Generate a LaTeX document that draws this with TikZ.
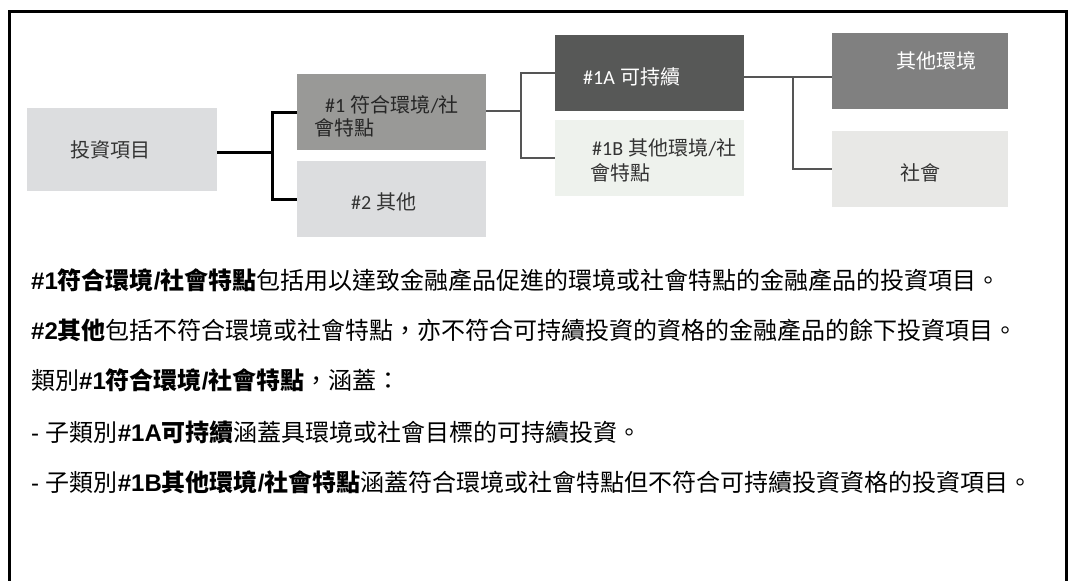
\documentclass[tikz,border=0pt]{standalone}
\usepackage{fontspec}
\setmainfont{Liberation Sans}
\newfontfamily\cjk[Script=CJK,Language=Chinese Traditional]{Noto Sans CJK TC}
\newfontfamily\carl{Carlito}
\newcommand{\Cj}[1]{{\cjk #1}}
\newcommand{\Cb}[1]{{\cjk\bfseries #1}}
\newcommand{\Lb}[1]{\textbf{#1}}
\definecolor{lightbox}{HTML}{DCDDDF}
\definecolor{midbox}{HTML}{999997}
\definecolor{darkbox}{HTML}{575857}
\definecolor{greenbox}{HTML}{EEF2ED}
\definecolor{envbox}{HTML}{808080}
\definecolor{socbox}{HTML}{E8E8E6}
\definecolor{conngrey}{HTML}{555555}
\definecolor{boxtext}{HTML}{333333}
\begin{document}
\begin{tikzpicture}[x=1pt,y=-1pt,
  box/.style={rectangle,draw=none,inner sep=0pt},
  boxlabel/.style={anchor=base west,inner sep=0pt,text=boxtext,font=\fontsize{20}{24}\selectfont},
  bodyline/.style={anchor=base west,inner sep=0pt,text=black,font=\fontsize{24}{28}\selectfont},
  conn1/.style={draw=black,line width=3pt},
  conn2/.style={draw=conngrey,line width=2.2pt},
  frameline/.style={draw=black,line width=3pt}]
\useasboundingbox (0,0) rectangle (1069,581);
\fill[white] (0,0) rectangle (1069,581);
% frame (open at the bottom)
\draw[frameline] (9,581) -- (9,11.5) -- (1066,11.5) -- (1066,581);
% boxes
\node[box,fill=lightbox,minimum width=190pt,minimum height=83pt] (inv) at (122,149.5) {};
\node[box,fill=midbox,minimum width=189pt,minimum height=76pt] (c1) at (391.5,112) {};
\node[box,fill=lightbox,minimum width=189pt,minimum height=76pt] (c2) at (391.5,199) {};
\node[box,fill=darkbox,minimum width=189pt,minimum height=76pt] (c1a) at (649.5,73) {};
\node[box,fill=greenbox,minimum width=189pt,minimum height=76pt] (c1b) at (649.5,158) {};
\node[box,fill=envbox,minimum width=176pt,minimum height=76pt] (env) at (920,71) {};
\node[box,fill=socbox,minimum width=176pt,minimum height=76pt] (soc) at (920,169) {};
% junctions
\coordinate (j1) at (272,152);
\coordinate (j2) at (521,111);
\coordinate (j3) at (793,77);
% connectors
\draw[conn1] (inv.east |- j1) -- (j1);
\draw[conn1] (c1.west) -| (j1) |- (c2.west);
\draw[conn2] (c1.east |- j2) -- (j2);
\draw[conn2] (c1a.west) -| (j2) |- (c1b.west);
\draw[conn2] (c1a.east |- j3) -- (env.west |- j3);
\draw[conn2] (j3) |- (soc.west);
% box labels
\node[boxlabel] (invt) at (70,157.6) {\Cj{投資項目}};
\node[boxlabel,text=black!85] (c1t1) at (325,112.6) {{\carl\#1} \Cj{符合環境}{\carl/}\Cj{社}};
\node[boxlabel,text=black!85] (c1t2) at (314,135.6) {\Cj{會特點}};
\node[boxlabel] (c2t) at (351,209.6) {{\carl\#2} \Cj{其他}};
\node[boxlabel,text=white] (c1at) at (583,84.6) {{\carl\#1A} \Cj{可持續}};
\node[boxlabel] (c1bt1) at (592,155.6) {{\carl\#1B} \Cj{其他環境}{\carl/}\Cj{社}};
\node[boxlabel] (c1bt2) at (590,180.6) {\Cj{會特點}};
\node[boxlabel,text=white] (envt) at (896,68.6) {\Cj{其他環境}};
\node[boxlabel] (soct) at (900,180.6) {\Cj{社會}};
% explanatory text
\node[bodyline] (l1) at (31,289) {\Lb{\#1}\Cb{符合環境}\Lb{/}\Cb{社會特點}\Cj{包括用以達致金融產品促進的環境或社會特點的金融產品的投資項目。}};
\node[bodyline] (l2) at (31,339) {\Lb{\#2}\Cb{其他}\Cj{包括不符合環境或社會特點，亦不符合可持續投資的資格的金融產品的餘下投資項目。}};
\node[bodyline] (l3) at (31,389) {\Cj{類別}\Lb{\#1}\Cb{符合環境}\Lb{/}\Cb{社會特點}\Cj{，涵蓋：}};
\node[bodyline] (l4) at (31,441) {- \Cj{子類別}\Lb{\#1A}\Cb{可持續}\Cj{涵蓋具環境或社會目標的可持續投資。}};
\node[bodyline] (l5) at (31,491) {- \Cj{子類別}\Lb{\#1B}\Cb{其他環境}\Lb{/}\Cb{社會特點}\Cj{涵蓋符合環境或社會特點但不符合可持續投資資格的投資項目。}};
\end{tikzpicture}
\end{document}
